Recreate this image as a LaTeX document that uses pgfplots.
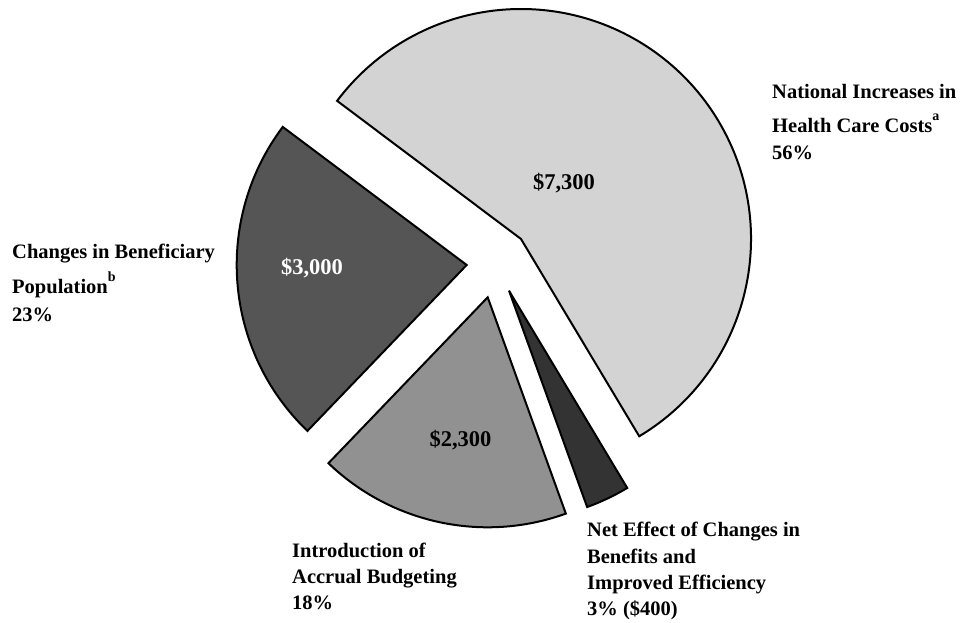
\documentclass[border=0pt]{standalone}
\usepackage{pgfplots}
\usepackage{pgfplotstable}
\pgfplotsset{compat=1.18}
\usepackage{fontspec}
\setmainfont{Liberation Serif}

\definecolor{cBig}{RGB}{211,211,211}
\definecolor{cPop}{RGB}{85,85,85}
\definecolor{cAcc}{RGB}{145,145,145}
\definecolor{cNet}{RGB}{51,51,51}

% slices in drawing order (counter-clockwise from the start angle)
% value in millions of dollars; vx, vy = position of the exploded slice's tip
\pgfplotstableread{
value vx    vy
3000  466.7 357.0
2300  487.7 324.7
400   509.0 331.3
7300  521.0 383.0
}\slices

\pgfplotstablegetelem{0}{value}\of\slices\edef\vA{\pgfplotsretval}
\pgfplotstablegetelem{1}{value}\of\slices\edef\vB{\pgfplotsretval}
\pgfplotstablegetelem{2}{value}\of\slices\edef\vC{\pgfplotsretval}
\pgfplotstablegetelem{3}{value}\of\slices\edef\vD{\pgfplotsretval}
\pgfplotstablegetelem{0}{vx}\of\slices\edef\xA{\pgfplotsretval}
\pgfplotstablegetelem{1}{vx}\of\slices\edef\xB{\pgfplotsretval}
\pgfplotstablegetelem{2}{vx}\of\slices\edef\xC{\pgfplotsretval}
\pgfplotstablegetelem{3}{vx}\of\slices\edef\xD{\pgfplotsretval}
\pgfplotstablegetelem{0}{vy}\of\slices\edef\yA{\pgfplotsretval}
\pgfplotstablegetelem{1}{vy}\of\slices\edef\yB{\pgfplotsretval}
\pgfplotstablegetelem{2}{vy}\of\slices\edef\yC{\pgfplotsretval}
\pgfplotstablegetelem{3}{vy}\of\slices\edef\yD{\pgfplotsretval}
\pgfmathsetmacro\total{\vA+\vB+\vC+\vD}
\pgfmathsetmacro\aA{143.1}
\pgfmathsetmacro\aB{\aA+360*(\vA/\total)}
\pgfmathsetmacro\aC{\aB+360*(\vB/\total)}
\pgfmathsetmacro\aD{\aC+360*(\vC/\total)}
\pgfmathsetmacro\aE{\aD+360*(\vD/\total)}
\def\R{230pt}

\newcommand\lab{\bfseries\fontsize{20.5}{24}\selectfont}
\newcommand\val{\bfseries\fontsize{22.5}{26}\selectfont}
\newcommand\supmark[1]{\raisebox{0.62em}{\fontsize{14}{14}\selectfont #1}}

\begin{document}
\begin{tikzpicture}
\useasboundingbox (0,0) rectangle (962pt,622pt);
\begin{axis}[
  width=962pt, height=622pt, scale only axis,
  xmin=0, xmax=962, ymin=0, ymax=622,
  hide axis, clip=false, anchor=south west, at={(0,0)},
]
\filldraw[fill=cPop, draw=black, line width=2pt]
  (axis cs:\xA,\yA) -- ++(\aA:\R) arc[start angle=\aA, end angle=\aB, radius=\R] -- cycle;
\filldraw[fill=cAcc, draw=black, line width=2pt]
  (axis cs:\xB,\yB) -- ++(\aB:\R) arc[start angle=\aB, end angle=\aC, radius=\R] -- cycle;
\filldraw[fill=cNet, draw=black, line width=2pt]
  (axis cs:\xC,\yC) -- ++(\aC:\R) arc[start angle=\aC, end angle=\aD, radius=\R] -- cycle;
\filldraw[fill=cBig, draw=black, line width=2pt]
  (axis cs:\xD,\yD) -- ++(\aD:\R) arc[start angle=\aD, end angle=\aE, radius=\R] -- cycle;

% values inside slices
\node[anchor=base, font=\val] at (axis cs:564,432) {\$7,300};
\node[anchor=base, font=\val, text=white] at (axis cs:312,347) {\$3,000};
\node[anchor=base, font=\val] at (axis cs:460.5,175.3) {\$2,300};

% outside labels
\node[anchor=base west, font=\lab, inner sep=0pt] at (axis cs:772,523) {National Increases in};
\node[anchor=base west, font=\lab, inner sep=0pt] at (axis cs:772,489) {Health Care Costs\supmark{a}};
\node[anchor=base west, font=\lab, inner sep=0pt] at (axis cs:772,462) {56\%};

\node[anchor=base west, font=\lab, inner sep=0pt] at (axis cs:12,363) {Changes in Beneficiary};
\node[anchor=base west, font=\lab, inner sep=0pt] at (axis cs:12,328) {Population\supmark{b}};
\node[anchor=base west, font=\lab, inner sep=0pt] at (axis cs:12,300) {23\%};

\node[anchor=base west, font=\lab, inner sep=0pt] at (axis cs:292,65) {Introduction of};
\node[anchor=base west, font=\lab, inner sep=0pt] at (axis cs:292,39) {Accrual Budgeting};
\node[anchor=base west, font=\lab, inner sep=0pt] at (axis cs:292,13) {18\%};

\node[anchor=base west, font=\lab, inner sep=0pt] at (axis cs:587,85) {Net Effect of Changes in};
\node[anchor=base west, font=\lab, inner sep=0pt] at (axis cs:587,59) {Benefits and};
\node[anchor=base west, font=\lab, inner sep=0pt] at (axis cs:587,33) {Improved Efficiency};
\node[anchor=base west, font=\lab, inner sep=0pt] at (axis cs:587,7) {3\% (\$400)};
\end{axis}
\end{tikzpicture}
\end{document}
